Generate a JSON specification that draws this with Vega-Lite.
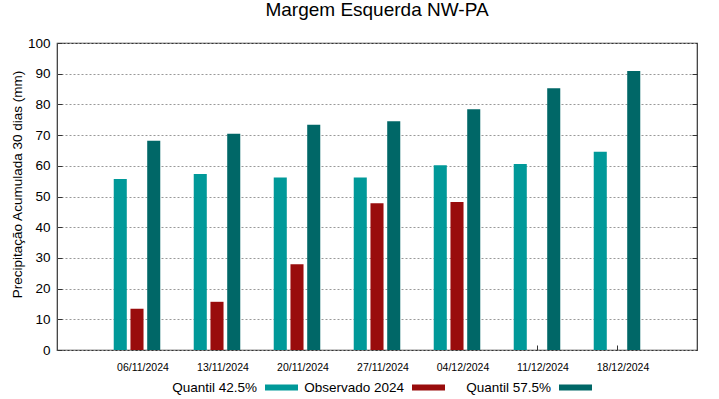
{
  "$schema": "https://vega.github.io/schema/vega-lite/v6.json",
  "autosize": {"type": "none"},
  "width": 640,
  "height": 307,
  "padding": {"left": 57, "top": 43, "right": 22, "bottom": 49},
  "background": "white",
  "title": {"text": "Margem Esquerda NW-PA", "font": "Liberation Sans", "fontSize": 19, "fontWeight": "normal", "color": "#000", "anchor": "middle", "offset": 16},
  "config": {
    "font": "Liberation Sans",
    "view": {"stroke": "#333", "strokeWidth": 1.2}
  },
  "data": {"values": [
    {"date": "06/11/2024", "series": "Quantil 42.5%", "value": 55.7},
    {"date": "06/11/2024", "series": "Observado 2024", "value": 13.4},
    {"date": "06/11/2024", "series": "Quantil 57.5%", "value": 68.2},
    {"date": "13/11/2024", "series": "Quantil 42.5%", "value": 57.3},
    {"date": "13/11/2024", "series": "Observado 2024", "value": 15.7},
    {"date": "13/11/2024", "series": "Quantil 57.5%", "value": 70.4},
    {"date": "20/11/2024", "series": "Quantil 42.5%", "value": 56.2},
    {"date": "20/11/2024", "series": "Observado 2024", "value": 27.9},
    {"date": "20/11/2024", "series": "Quantil 57.5%", "value": 73.4},
    {"date": "27/11/2024", "series": "Quantil 42.5%", "value": 56.2},
    {"date": "27/11/2024", "series": "Observado 2024", "value": 47.8},
    {"date": "27/11/2024", "series": "Quantil 57.5%", "value": 74.5},
    {"date": "04/12/2024", "series": "Quantil 42.5%", "value": 60.2},
    {"date": "04/12/2024", "series": "Observado 2024", "value": 48.2},
    {"date": "04/12/2024", "series": "Quantil 57.5%", "value": 78.4},
    {"date": "11/12/2024", "series": "Quantil 42.5%", "value": 60.6},
    {"date": "11/12/2024", "series": "Quantil 57.5%", "value": 85.3},
    {"date": "18/12/2024", "series": "Quantil 42.5%", "value": 64.6},
    {"date": "18/12/2024", "series": "Quantil 57.5%", "value": 90.9}
  ]},
  "encoding": {
    "x": {
      "field": "date", "type": "nominal", "sort": null,
      "scale": {"paddingInner": 0, "paddingOuter": 0.5},
      "axis": {"title": null, "labelAngle": 0, "labelFontSize": 10.5, "labelColor": "#000", "labelOffset": 6, "tickSize": -5, "tickColor": "#333", "labelPadding": 17, "domain": false, "grid": false}
    },
    "xOffset": {
      "field": "series", "type": "nominal",
      "sort": ["Quantil 42.5%", "Observado 2024", "Quantil 57.5%"],
      "scale": {"paddingInner": 0.22, "paddingOuter": 1.11}
    },
    "color": {
      "field": "series", "type": "nominal",
      "sort": ["Quantil 42.5%", "Observado 2024", "Quantil 57.5%"],
      "scale": {"domain": ["Quantil 42.5%", "Observado 2024", "Quantil 57.5%"], "range": ["#009999", "#990c0c", "#006767"]},
      "legend": {"title": null, "orient": "none", "legendX": 208, "legendY": 328, "direction": "horizontal", "columns": 3, "gridAlign": "all", "symbolType": "M-1,-0.18L1,-0.18L1,0.18L-1,0.18Z", "symbolSize": 1089, "symbolStrokeWidth": 0, "symbolOpacity": 1, "labelAlign": "right", "labelOffset": -41, "labelFontSize": 13.5, "labelColor": "#000", "columnPadding": 6, "labelLimit": 300}
    }
  },
  "layer": [
    {
      "mark": {"type": "bar"},
      "encoding": {
        "y": {
          "field": "value", "type": "quantitative",
          "scale": {"domain": [0, 100], "nice": false},
          "axis": {"title": "Precipitação Acumulada 30 dias (mm)", "titleFontSize": 13.5, "titleFontWeight": "normal", "titleColor": "#000", "titleX": -40, "titleY": 141, "titleAlign": "center", "titleBaseline": "middle", "values": [0,10,20,30,40,50,60,70,80,90,100], "labelOverlap": false, "labelFontSize": 13.5, "labelColor": "#000", "tickSize": -5, "tickColor": "#333", "labelPadding": 12, "domain": false, "grid": true, "gridDash": [2, 2], "gridColor": "#999", "gridWidth": 1}
        }
      }
    },
    {
      "mark": {"type": "bar", "opacity": 0},
      "encoding": {
        "y": {
          "field": "value", "type": "quantitative",
          "scale": {"domain": [0, 100], "nice": false},
          "axis": {"orient": "right", "title": null, "values": [10,20,30,40,50,60,70,80,90], "labels": false, "tickSize": -5, "tickColor": "#333", "domain": false, "grid": false}
        }
      }
    }
  ],
  "resolve": {"axis": {"y": "independent"}}
}
